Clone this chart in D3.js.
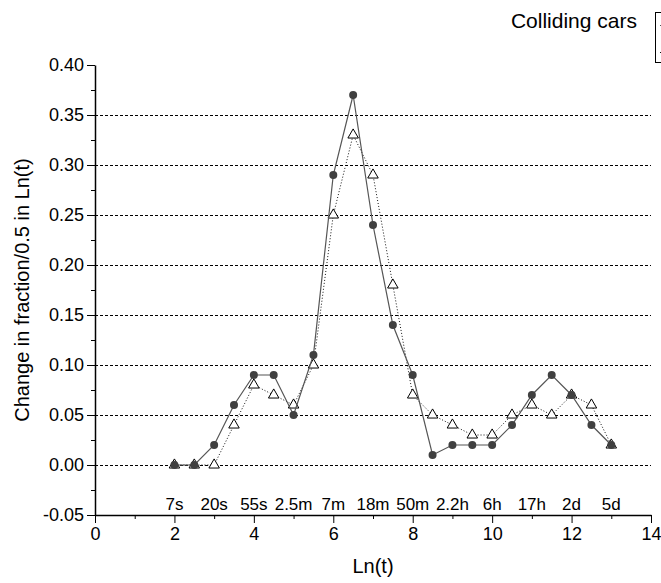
<!DOCTYPE html>
<html>
<head>
<meta charset="utf-8">
<script src="https://cdn.jsdelivr.net/npm/d3@7"></script>
<style>
  body { margin: 0; background: #fff; }
  svg { font-family: "Liberation Sans", Arial, sans-serif; }
</style>
</head>
<body>
<div id="chart"></div>
<script>
// Ln(t) positions of the measurements
const lnT = [2, 2.5, 3, 3.5, 4, 4.5, 5, 5.5, 6, 6.5, 7, 7.5, 8, 8.5, 9, 9.5, 10, 10.5, 11, 11.5, 12, 12.5, 13];
// filled circles, solid line
const seriesA = [0.00, 0.00, 0.02, 0.06, 0.09, 0.09, 0.05, 0.11, 0.29, 0.37, 0.24, 0.14, 0.09, 0.01, 0.02, 0.02, 0.02, 0.04, 0.07, 0.09, 0.07, 0.04, 0.02];
// open triangles, dotted line
const seriesB = [0.00, 0.00, 0.00, 0.04, 0.08, 0.07, 0.06, 0.10, 0.25, 0.33, 0.29, 0.18, 0.07, 0.05, 0.04, 0.03, 0.03, 0.05, 0.06, 0.05, 0.07, 0.06, 0.02];

// time labels written inside the plot
const timeX = [2, 3, 4, 5, 6, 7, 8, 9, 10, 11, 12, 13];
const timeLabels = ["7s", "20s", "55s", "2.5m", "7m", "18m", "50m", "2.2h", "6h", "17h", "2d", "5d"];

const xMajor = [0, 2, 4, 6, 8, 10, 12, 14];
const xMinor = [1, 3, 5, 7, 9, 11, 13];
const yMajor = [-0.05, 0, 0.05, 0.10, 0.15, 0.20, 0.25, 0.30, 0.35, 0.40];
const yMinor = [-0.025, 0.025, 0.075, 0.125, 0.175, 0.225, 0.275, 0.325, 0.375];
const gridY = [0, 0.05, 0.10, 0.15, 0.20, 0.25, 0.30, 0.35];

const legendTitle = "Colliding cars";

// chart dimensions
const width = 661;
const height = 583;
const marginLeft = 95;
const marginRight = 10;
const marginTop = 65;
const marginBottom = 68;

const x = d3.scaleLinear().domain([0, 14]).range([marginLeft, width - marginRight]);
const y = d3.scaleLinear().domain([-0.05, 0.40]).range([height - marginBottom, marginTop]);

const svg = d3.select("#chart")
    .append("svg")
    .attr("width", width)
    .attr("height", height)
    .attr("viewBox", [0, 0, width, height]);

// dashed horizontal grid
svg.append("g")
    .selectAll("line")
    .data(gridY)
    .join("line")
    .attr("x1", x(0))
    .attr("x2", x(14))
    .attr("y1", d => Math.round(y(d)) + 0.5)
    .attr("y2", d => Math.round(y(d)) + 0.5)
    .attr("stroke", "#000")
    .attr("stroke-width", 1)
    .attr("stroke-dasharray", "3,2");

// axes
const fmt = d => d3.format(".2f")(d).replace("\u2212", "-");
const axisFont = g => g.selectAll("text")
    .attr("font-size", 18)
    .attr("fill", "#000")
    .attr("font-family", "Liberation Sans, Arial, sans-serif");

svg.append("g")
    .attr("transform", `translate(0,${y(-0.05)})`)
    .call(d3.axisBottom(x).tickValues(xMinor).tickSize(4).tickFormat(""))
    .call(g => g.select(".domain").remove());

svg.append("g")
    .attr("transform", `translate(0,${y(-0.05)})`)
    .call(d3.axisBottom(x).tickValues(xMajor).tickSize(8).tickSizeOuter(0).tickPadding(4))
    .call(g => g.select(".domain").attr("stroke-width", 1.5))
    .call(axisFont);

svg.append("g")
    .attr("transform", `translate(${x(0)},0)`)
    .call(d3.axisLeft(y).tickValues(yMinor).tickSize(4).tickFormat(""))
    .call(g => g.select(".domain").remove());

svg.append("g")
    .attr("transform", `translate(${x(0)},0)`)
    .call(d3.axisLeft(y).tickValues(yMajor).tickSize(8).tickSizeOuter(0).tickPadding(3).tickFormat(fmt))
    .call(g => g.select(".domain").attr("stroke-width", 1.5))
    .call(axisFont);

// time labels
svg.append("g")
    .selectAll("text")
    .data(timeX)
    .join("text")
    .attr("x", d => x(d))
    .attr("y", y(-0.05) - 5)
    .attr("text-anchor", "middle")
    .attr("font-size", 17)
    .text((d, i) => timeLabels[i]);

// triangle series (dotted)
const line = d3.line().x((d, i) => x(lnT[i])).y(d => y(d));
svg.append("path")
    .datum(seriesB)
    .attr("d", line)
    .attr("fill", "none")
    .attr("stroke", "#111")
    .attr("stroke-width", 1)
    .attr("stroke-dasharray", "1,2");

svg.append("g")
    .selectAll("path")
    .data(seriesB)
    .join("path")
    .attr("transform", (d, i) => `translate(${x(lnT[i])},${y(d)})`)
    .attr("d", d3.symbol(d3.symbolTriangle, 48))
    .attr("fill", "#fff")
    .attr("stroke", "#000")
    .attr("stroke-width", 1);

// circle series (solid)
svg.append("path")
    .datum(seriesA)
    .attr("d", line)
    .attr("fill", "none")
    .attr("stroke", "#555")
    .attr("stroke-width", 1.2);

svg.append("g")
    .selectAll("circle")
    .data(seriesA)
    .join("circle")
    .attr("cx", (d, i) => x(lnT[i]))
    .attr("cy", d => y(d))
    .attr("r", 4)
    .attr("fill", "#404040");

// axis titles
svg.append("text")
    .attr("x", (x(0) + x(14)) / 2)
    .attr("y", 573)
    .attr("text-anchor", "middle")
    .attr("font-size", 20)
    .text("Ln(t)");

svg.append("text")
    .attr("transform", `translate(29,${(y(-0.05) + y(0.40)) / 2}) rotate(-90)`)
    .attr("text-anchor", "middle")
    .attr("font-size", 20)
    .text("Change in fraction/0.5 in Ln(t)");

// legend (runs off the right edge)
svg.append("text")
    .attr("x", 637)
    .attr("y", 28)
    .attr("text-anchor", "end")
    .attr("font-size", 21)
    .text(legendTitle);

svg.append("rect")
    .attr("x", 655.5)
    .attr("y", 12.5)
    .attr("width", 60)
    .attr("height", 50)
    .attr("fill", "none")
    .attr("stroke", "#000")
    .attr("stroke-width", 1);

svg.append("line")
    .attr("x1", 660).attr("x2", 680)
    .attr("y1", 25.5).attr("y2", 25.5)
    .attr("stroke", "#555");
svg.append("line")
    .attr("x1", 660).attr("x2", 680)
    .attr("y1", 52.5).attr("y2", 52.5)
    .attr("stroke", "#111")
    .attr("stroke-dasharray", "1,2");
</script>
</body>
</html>
